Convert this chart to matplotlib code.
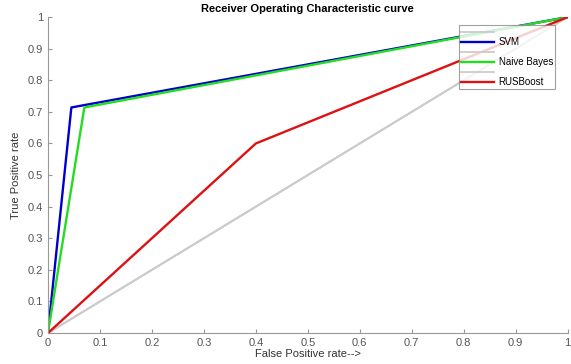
import matplotlib
matplotlib.use('Agg')
import matplotlib.pyplot as plt

plt.rcParams['font.family'] = ['Liberation Sans', 'DejaVu Sans']

# ROC points
chance_fpr = [0, 1]
chance_tpr = [0, 1]

svm_fpr = [0, 0.045, 1]
svm_tpr = [0, 0.714, 1]

nb_fpr = [0, 0.07, 1]
nb_tpr = [0, 0.714, 1]

rus_fpr = [0, 0.4, 1]
rus_tpr = [0, 0.6, 1]

ticks = [0, 0.1, 0.2, 0.3, 0.4, 0.5, 0.6, 0.7, 0.8, 0.9, 1]
tick_labels = ['0', '0.1', '0.2', '0.3', '0.4', '0.5', '0.6', '0.7', '0.8', '0.9', '1']

fig = plt.figure(figsize=(5.71, 3.64), dpi=100)
ax = fig.add_axes([0.084, 0.085, 0.91, 0.868])

gray = '#cccccc'
ax.plot(chance_fpr, chance_tpr, color=gray, lw=1.3, label=' ')
ax.plot(svm_fpr, svm_tpr, color='#0000cc', lw=1.7, label='SVM')
ax.plot(chance_fpr, chance_tpr, color=gray, lw=1.3, label=' ')
ax.plot(nb_fpr, nb_tpr, color='#22dd22', lw=1.7, label='Naive Bayes')
ax.plot(chance_fpr, chance_tpr, color=gray, lw=1.3, label=' ')
ax.plot(rus_fpr, rus_tpr, color='#dd1111', lw=1.7, label='RUSBoost')

ax.set_xlim(0, 1)
ax.set_ylim(0, 1)
ax.set_xticks(ticks)
ax.set_xticklabels(tick_labels)
ax.set_yticks(ticks)
ax.set_yticklabels(tick_labels)
ax.tick_params(direction='in', length=3, colors='#999999', labelcolor='#555555', labelsize=8)

for side in ['top', 'right']:
    ax.spines[side].set_visible(False)
for side in ['left', 'bottom']:
    ax.spines[side].set_color('#999999')

ax.set_title('Receiver Operating Characteristic curve', fontsize=8, fontweight='bold', pad=4)
ax.set_xlabel('False Positive rate-->', fontsize=8, color='#333333', labelpad=1)
ax.set_ylabel('True Positive rate', fontsize=8, color='#333333', labelpad=5)

leg = ax.legend(loc='upper right', bbox_to_anchor=(0.985, 0.99), fontsize=7,
                frameon=True, fancybox=False, edgecolor='#888888',
                handlelength=3.4, labelspacing=0.0, borderpad=0.2,
                handletextpad=0.5)
leg.get_frame().set_linewidth(0.8)

fig.savefig('out.png', dpi=100)
